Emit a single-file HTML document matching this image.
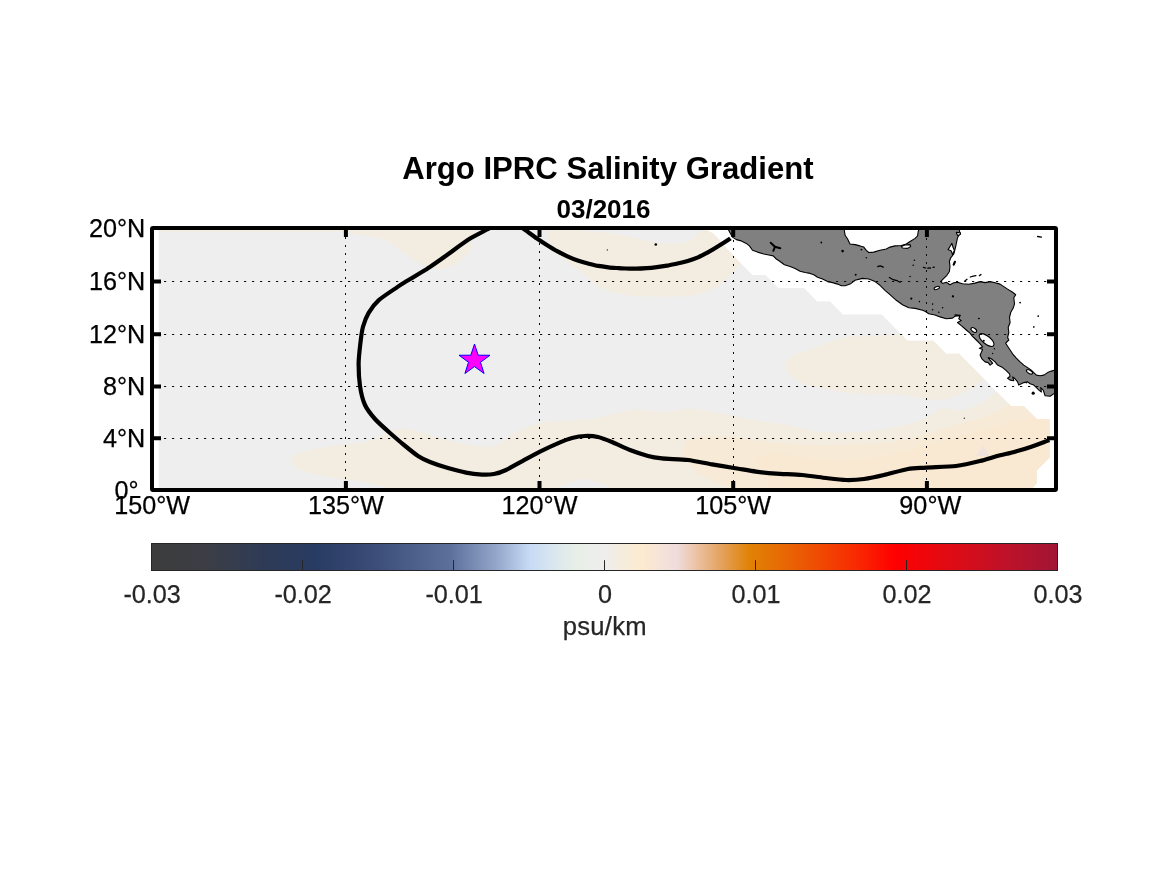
<!DOCTYPE html>
<html lang="en"><head><meta charset="utf-8"><title>Argo IPRC Salinity Gradient</title>
<style>html,body{margin:0;padding:0;background:#fff;width:1167px;height:875px;overflow:hidden}svg{display:block;font-family:"Liberation Sans",Arial,Helvetica,sans-serif}.tk{font-size:25.2px;fill:#000;stroke:#000;stroke-width:.25px}.ct{fill:none;stroke:#000;stroke-width:4.2;stroke-linejoin:round;stroke-linecap:butt}.gr{stroke:#0a0a0a;stroke-width:1.0;stroke-dasharray:2.2 5.8;fill:none}.cl{fill:#808080;stroke:#000;stroke-width:1.1;stroke-linejoin:round}.wt{fill:#fff;stroke:#000;stroke-width:1.1;stroke-linejoin:round}.isl{fill:#000;stroke:none}</style></head><body>
<svg width="1167" height="875" viewBox="0 0 1167 875">
<defs><clipPath id="ax"><rect x="154" y="230" width="900" height="258"/></clipPath>
<clipPath id="dat"><path d="M158.7 214.7 L700 224 L706.3 230.1 L713.1 233.5 L718.6 239 L726.8 248.6 L740.5 263 L752.6 274.9 L765.5 274.9 L778.4 288.1 L804.2 288.1 L817.1 301.4 L830 301.4 L842.9 314.5 L881.7 314.5 L907.5 340.8 L933.3 340.8 L946.2 353.8 L959.1 353.8 L1010.8 405.9 L1023.7 405.9 L1036.6 418.9 L1049.5 418.9 L1049.5 457.7 L1036.6 470.6 L1036.6 483.5 L1023.7 496.5 L158.7 496.5Z"/></clipPath>
<linearGradient id="cb" x1="0" y1="0" x2="1" y2="0">
<stop offset="0.0" stop-color="#3c3c3c"/>
<stop offset="0.06" stop-color="#3c3e45"/>
<stop offset="0.12" stop-color="#2f3b55"/>
<stop offset="0.18" stop-color="#283b62"/>
<stop offset="0.25" stop-color="#3d4e7a"/>
<stop offset="0.33" stop-color="#5d709c"/>
<stop offset="0.38" stop-color="#93a5c9"/>
<stop offset="0.418" stop-color="#c8dbf6"/>
<stop offset="0.45" stop-color="#dde9ec"/>
<stop offset="0.47" stop-color="#e8efe6"/>
<stop offset="0.5" stop-color="#eeeeee"/>
<stop offset="0.52" stop-color="#f5ecdc"/>
<stop offset="0.54" stop-color="#fdebd0"/>
<stop offset="0.56" stop-color="#f6e4d8"/>
<stop offset="0.58" stop-color="#efdcdc"/>
<stop offset="0.6" stop-color="#ecc4a8"/>
<stop offset="0.63" stop-color="#e3a15a"/>
<stop offset="0.66" stop-color="#e08205"/>
<stop offset="0.69" stop-color="#e66e04"/>
<stop offset="0.73" stop-color="#ee5003"/>
<stop offset="0.78" stop-color="#f92802"/>
<stop offset="0.82" stop-color="#ff0000"/>
<stop offset="0.88" stop-color="#e00b14"/>
<stop offset="0.94" stop-color="#c01128"/>
<stop offset="1.0" stop-color="#a01635"/>
</linearGradient></defs>
<rect width="1167" height="875" fill="#fff"/>
<text x="607.9" y="179.3" font-size="31.12" font-weight="bold" text-anchor="middle">Argo IPRC Salinity Gradient</text>
<text x="603.5" y="218.3" font-size="26" font-weight="bold" text-anchor="middle">03/2016</text>
<g clip-path="url(#ax)">
<g clip-path="url(#dat)">
<rect x="150" y="226" width="910" height="266" fill="#eeeeee"/>
<path d="M158 229H356V231.7H158Z" fill="#f3ece1"/>
<path d="M345 224 C323 225.4 346.2 230.8 348 232.5 C349.8 234.2 352.7 233.7 355.7 234.2 C358.7 234.7 362.6 235 366 235.5 C369.4 236 372.5 236.3 376.2 237.3 C379.9 238.3 384.4 239.5 388 241.4 C391.6 243.3 394.7 246.1 398 248.5 C401.3 250.9 403.7 253.2 408 256 C412.3 258.8 418.7 262.8 424 265 C429.3 267.2 435 269 440 269 C445 269 449.7 267.2 454 265 C458.3 262.8 463 259.2 466 256 C469 252.8 471.2 249 472 246 C472.8 243 470.3 240.5 471 238 C471.7 235.5 474.5 233.3 476 231 C477.5 228.7 501.8 225.2 480 224 C458.2 222.8 367 222.6 345 224Z" fill="#f3ece1"/>
<path d="M551 224 C547.3 225.6 547.6 233.3 547.5 236 C547.4 238.7 548.7 241.6 550 244 C551.3 246.4 554.7 251.6 557 254 C559.3 256.4 564.2 259.9 567 262 C569.8 264.1 575.2 267.4 578 269.5 C580.8 271.6 585.3 275.3 588 277.5 C590.7 279.7 594.8 284.1 598 286 C601.2 287.9 607.7 290.7 612 292 C616.3 293.3 624.9 294.9 630 295.5 C635.1 296.1 643.3 296.4 650 296.5 C656.7 296.6 673.3 296.8 680 296.5 C686.7 296.2 695.7 295 700 294 C704.3 293 709.5 290.1 712 289 C714.5 287.9 716.1 287.9 718.5 286 C720.9 284.1 727.1 277.9 730 275 C732.9 272.1 736 267.9 740 264 C744 260.1 757.3 251.3 760 246 C762.7 240.7 767.2 226.9 760 224 C752.8 221.1 713.7 223.1 706 224 C698.3 224.9 703.1 229.4 702 230.6 C700.9 231.8 699.6 231.9 698 233.2 C696.4 234.5 692.3 239 689.8 240.4 C687.3 241.8 682.5 243.1 679.5 243.5 C676.5 243.9 671.4 243.9 667 243.5 C662.6 243.1 652.1 241.4 646.6 240.4 C641.1 239.4 631.1 236.8 626 235.8 C620.9 234.8 613.6 233.8 608.5 233.2 C603.4 232.6 592.5 232.2 588 231 C583.5 229.8 579.9 224.9 575 224 C570.1 223.1 554.7 222.4 551 224Z" fill="#f3ece1"/>
<path d="M291 457.5 C290.5 455.5 289.8 457.2 293 456 C296.2 454.8 302.2 451.8 310 450 C317.8 448.2 330.7 446.3 340 445 C349.3 443.7 358.7 443.8 366 442 C373.3 440.2 378 436.3 384 434 C390 431.7 396 428.7 402 428.4 C408 428.1 413.7 430.4 420 432 C426.3 433.6 433.3 436.2 440 438 C446.7 439.8 453.3 441.6 460 443 C466.7 444.4 474.3 445.9 480 446.4 C485.7 446.9 489.7 447.2 494 446 C498.3 444.8 501.7 441.7 506 439 C510.3 436.3 514.3 432.7 520 430 C525.7 427.3 533.3 424.5 540 423 C546.7 421.5 551.7 421.7 560 421 C568.3 420.3 581.7 420 590 419 C598.3 418 602.3 416.6 610 415 C617.7 413.4 627.7 410.1 636 409.6 C644.3 409.1 651.3 412.1 660 412 C668.7 411.9 679.3 409 688 409 C696.7 409 704.3 410.8 712 412 C719.7 413.2 726 414.5 734 416 C742 417.5 750.2 419.3 760 421 C769.8 422.7 783 424.2 793 426 C803 427.8 808.8 431 820 432 C831.2 433 846.7 433 860 432 C873.3 431 889 428.3 900 426 C911 423.7 919.3 420.8 926 418 C932.7 415.2 934 410.3 940 409 C946 407.7 955.4 410.8 961.7 410 C968 409.2 973.5 406.5 978 404.5 C982.5 402.5 985.6 400.2 988.9 398 C992.1 395.8 994 394.5 997.5 391.5 C1001 388.5 997.9 381.9 1010 380 C1022.1 378.1 1060 360 1070 380 C1080 400 1146.3 480 1070 500 C993.7 520 689 502.2 612 500 C535 497.8 610.7 490 608 487 C605.3 484 600 483.3 596 482 C592 480.7 588 479 584 479 C580 479 576 480.7 572 482 C568 483.3 562.7 484 560 487 C557.3 490 584.3 497.8 556 500 C527.7 502.2 418.3 502 390 500 C361.7 498 387.7 490.3 386 488 C384.3 485.7 384.3 487.2 380 486 C375.7 484.8 366.7 482.2 360 481 C353.3 479.8 347 480 340 479 C333 478 324.7 476.5 318 475 C311.3 473.5 303.7 471.2 300 470 C296.3 468.8 297.5 470.1 296 468 C294.5 465.9 291.5 459.5 291 457.5Z" fill="#f3ece1"/>
<path d="M785 367 C784.3 363 787.8 358.8 792 356 C796.2 353.2 803.7 352.3 810 350 C816.3 347.7 823.3 344.2 830 342 C836.7 339.8 841.7 337.9 850 336.8 C858.3 335.7 872 335.9 880 335.5 C888 335.1 891.3 334.8 898 334.5 C904.7 334.2 903 334.1 920 334 C937 333.9 985 328 1000 334 C1015 340 1012.8 362.3 1010 370 C1007.2 377.7 989.6 377 983.4 380 C977.2 383 977.2 385.3 972.6 388 C968 390.7 961.4 394 956 396 C950.6 398 946 399.7 940 400 C934 400.3 926.7 398.8 920 398 C913.3 397.2 910 395.7 900 395 C890 394.3 873.3 395.2 860 394 C846.7 392.8 830.7 390.3 820 388 C809.3 385.7 801.8 383.5 796 380 C790.2 376.5 785.7 371 785 367Z" fill="#f3ece1"/>
<path d="M684 450 C684.3 446.3 685.3 442.3 690 440 C694.7 437.7 703.7 436.3 712 436 C720.3 435.7 732 437.2 740 438 C748 438.8 751.2 440 760 441 C768.8 442 783 443.3 793 444 C803 444.7 808.8 445 820 445 C831.2 445 848.3 444.5 860 444 C871.7 443.5 880 443.3 890 442 C900 440.7 911.7 438 920 436 C928.3 434 933.3 432 940 430 C946.7 428 953.3 426 960 424 C966.7 422 973.3 420.3 980 418 C986.7 415.7 993.3 413 1000 410 C1006.7 407 1008.3 401.7 1020 400 C1031.7 398.3 1061.7 383.3 1070 400 C1078.3 416.7 1125.8 483.3 1070 500 C1014.2 516.7 791.7 502 735 500 C678.3 498 732.5 490.7 730 488 C727.5 485.3 725 486.3 720 484 C715 481.7 705.3 477.7 700 474 C694.7 470.3 690.7 466 688 462 C685.3 458 683.7 453.7 684 450Z" fill="#f7ead7"/>
<path d="M756 458 C759.3 455 771 454 780 454 C789 454 800 457 810 458 C820 459 830 460 840 460 C850 460 860 459.3 870 458 C880 456.7 890 454.3 900 452 C910 449.7 920 446.7 930 444 C940 441.3 950 438.7 960 436 C970 433.3 980 430.7 990 428 C1000 425.3 1006.7 422.2 1020 420 C1033.3 417.8 1061.7 401.7 1070 415 C1078.3 428.3 1119 485.8 1070 500 C1021 514.2 826 502.3 776 500 C726 497.7 772.7 490.7 770 486 C767.3 481.3 762.3 476.7 760 472 C757.7 467.3 752.7 461 756 458Z" fill="#f9e9d3"/>
<path d="M983.4 446 L990 456 L976 456Z" fill="#f0e2dc"/>
</g>
<path class="cl" d="M727.5 227.8 L730 232.8 L732.5 237.1 L736.3 239.6 L741.3 240.9 L746.3 243.4 L749.4 245.9 L752.5 250.3 L757.5 252.1 L763.8 254 L770 255.3 L773.2 255.9 L776.3 259 L780.1 261.5 L784.4 264.7 L790.1 266.5 L795.1 268.4 L800.1 271.3 L805.1 272.5 L810.1 273.4 L813.8 274.7 L817.6 277.2 L822.6 279 L827.6 281.6 L832.6 282.6 L837.6 284.1 L841.4 285.7 L845.1 285.7 L850.1 284.1 L855 280.3 L862.5 278.4 L868.8 279 L875 281.6 L880 285.3 L885 290.3 L890 294.7 L896.3 300.3 L902.5 304.7 L908.8 307.8 L915.1 308.4 L922.6 310.3 L925 311.3 L928.8 313.8 L935 315 L940 316.9 L946.3 318.8 L952.5 318.1 L955 316.3 L960 315.6 L958.8 318.8 L961.3 320.6 L957.5 322.5 L961.3 325.6 L966.3 330 L970 333.2 L972.5 336.3 L976.3 340 L980.1 343.8 L982.6 346.9 L979.4 348.2 L982.6 349.4 L981.3 352.5 L980.1 355 L981.9 358.8 L985.1 361.9 L988.2 362.6 L990.1 365.1 L992.6 363.2 L990.1 360.1 L988.2 357.6 L991.3 358.8 L995.1 361.9 L997.6 365.1 L1002.6 367.6 L1006.3 370.7 L1009.5 373.8 L1010.1 376.3 L1007.6 378.2 L1010.1 380.1 L1013.8 380.7 L1012.6 376.9 L1015.1 378.8 L1017.6 381.9 L1018.8 385.1 L1023.8 382.6 L1027.6 381.9 L1030.1 383.8 L1033.8 385.1 L1036.4 387.6 L1038.9 390.1 L1041.4 392 L1040.7 387.6 L1043.2 390.1 L1045.1 395.7 L1050.1 396.3 L1054.5 393.2 L1060 393 L1060 371 L1054.5 370.3 L1051.4 371.1 L1047.6 372.6 L1043.9 375.1 L1040.1 375.7 L1036.4 375.1 L1033.8 372.6 L1031.3 370.1 L1027.6 367.6 L1023.8 365.1 L1020.1 361.9 L1016.3 358.2 L1012.6 353.8 L1010.1 350 L1007.6 346.3 L1005.7 343.2 L1008.8 340 L1007.6 337.5 L1008.8 332.5 L1008.2 327.5 L1010.1 322.5 L1009.5 317.5 L1010.7 312.5 L1013.2 308.1 L1014.5 303.8 L1013.8 297.8 L1015.7 294.7 L1012.6 292.2 L1007.6 289.1 L1003.8 286.6 L1000.1 284.1 L995.1 282.8 L990.1 281.6 L985.1 282.6 L980.1 281.6 L975 283.1 L968.8 284.3 L962.5 283.8 L957.5 282.2 L953.8 282.8 L950 284.7 L946.3 282.2 L942.5 283.4 L940.6 281.6 L943.8 278.4 L946.9 275.3 L949.4 271.5 L950 266.5 L949.4 261.5 L950.7 257.8 L953.8 254 L955.7 246.5 L957.5 237.8 L960 233.4 L958.8 227.8 L919.4 227.8 L918.2 231.5 L917.6 235.9 L915.1 238.4 L910.1 241.5 L906.3 244 L901.3 245.5 L895 245.9 L890 247.1 L886.3 249 L880 250.3 L873.8 252.1 L868.8 252.5 L866.3 250.3 L863.8 247.1 L860 245.9 L855 244.6 L850 244 L847.6 239 L845.1 235.3 L843.9 227.8Z"/>
<path class="wt" d="M951.9 243.4 L953.2 247.8 L954.4 250.3 L952.5 254.7 L951.3 250.9 L948.1 249.6 L950 246.5Z"/>
<path class="wt" d="M901.3 246.5 L905 245 L910.1 244.6 L910.7 246.5 L907.6 248.4 L902.5 248Z"/>
<path class="wt" d="M956.3 232.4 L960.5 232.8 L960.3 234.6 L957.6 235.5 L956.8 234Z"/>
<ellipse class="wt" cx="986.6" cy="340.0" rx="9.0" ry="3.9" transform="rotate(39 986.6 340.0)"/>
<ellipse class="wt" cx="973.8" cy="330.0" rx="3.2" ry="1.8" transform="rotate(35 973.8 330.0)"/>
<ellipse class="wt" cx="1029.5" cy="371.8" rx="3.4" ry="1.6" transform="rotate(30 1029.5 371.8)"/>
<ellipse class="wt" cx="936.8" cy="288.0" rx="2.8" ry="1.4" transform="rotate(-20 936.8 288.0)"/>
<circle class="isl" cx="821.3" cy="242.5" r="0.9"/>
<circle class="isl" cx="855.7" cy="274.7" r="0.9"/>
<circle class="isl" cx="861.4" cy="249.6" r="0.9"/>
<circle class="isl" cx="842.6" cy="251.1" r="1.3"/>
<circle class="isl" cx="866.3" cy="257.8" r="0.8"/>
<circle class="isl" cx="855.6" cy="274.7" r="0.8"/>
<circle class="isl" cx="914.4" cy="260.3" r="0.8"/>
<circle class="isl" cx="913.2" cy="265.3" r="0.8"/>
<circle class="isl" cx="910.1" cy="276.5" r="0.8"/>
<circle class="isl" cx="911.3" cy="298.8" r="0.8"/>
<circle class="isl" cx="919.4" cy="301.6" r="0.8"/>
<circle class="isl" cx="932.6" cy="304.1" r="0.8"/>
<circle class="isl" cx="942.6" cy="307.8" r="0.8"/>
<circle class="isl" cx="938.8" cy="312.2" r="0.8"/>
<circle class="isl" cx="932.6" cy="309.7" r="0.8"/>
<circle class="isl" cx="952.6" cy="296.3" r="0.8"/>
<circle class="isl" cx="978.9" cy="318.5" r="0.8"/>
<circle class="isl" cx="1020.1" cy="302.8" r="0.7"/>
<circle class="isl" cx="1038.2" cy="316.2" r="0.7"/>
<circle class="isl" cx="1033.8" cy="327" r="0.7"/>
<circle class="isl" cx="978.8" cy="318.5" r="0.7"/>
<circle class="isl" cx="1020.1" cy="302.5" r="0.7"/>
<circle class="isl" cx="1038.2" cy="316" r="0.7"/>
<circle class="isl" cx="1033.8" cy="326.9" r="0.7"/>
<circle class="isl" cx="994.4" cy="348.8" r="0.7"/>
<circle class="isl" cx="992.6" cy="353.5" r="0.7"/>
<circle class="isl" cx="1026.3" cy="382.8" r="0.7"/>
<circle class="isl" cx="983.8" cy="340.7" r="1.0"/>
<circle class="isl" cx="1033.2" cy="393.2" r="1.6"/>
<circle class="isl" cx="655.8" cy="244.5" r="1.3"/>
<circle class="isl" cx="607.3" cy="249.9" r="0.6"/>
<circle class="isl" cx="964.3" cy="418.2" r="0.6"/>
<circle class="isl" cx="911.3" cy="298.5" r="1.1"/>
<circle class="isl" cx="953" cy="296.4" r="1.1"/>
<path d="M877.8 266.5 L880.7 265.9 L883.2 267.2" fill="none" stroke="#000" stroke-width="1.3" stroke-linecap="round"/>
<path d="M889.4 277.5 L893.2 279.7 L896.9 280.5 L900 282.2" fill="none" stroke="#000" stroke-width="1.3" stroke-linecap="round"/>
<path d="M964.6 281.3 L967 279.3" fill="none" stroke="#000" stroke-width="1.3" stroke-linecap="round"/>
<path d="M970.3 277 L973.2 276.1 L975.9 275.6" fill="none" stroke="#000" stroke-width="1.3" stroke-linecap="round"/>
<path d="M979.4 275.6 L981 274.5" fill="none" stroke="#000" stroke-width="1.3" stroke-linecap="round"/>
<path d="M1037.6 236.5 L1041.4 237.1" fill="none" stroke="#000" stroke-width="1.3" stroke-linecap="round"/>
<path d="M923.4 267.3 L925.7 268" fill="none" stroke="#000" stroke-width="1.3" stroke-linecap="round"/>
<path d="M927.8 268.2 L930.4 268" fill="none" stroke="#000" stroke-width="1.3" stroke-linecap="round"/>
<path d="M933.1 267.3 L934.3 267.1" fill="none" stroke="#000" stroke-width="1.3" stroke-linecap="round"/>
<path d="M955 315 L960.2 315.3" fill="none" stroke="#000" stroke-width="1.3" stroke-linecap="round"/>
<path d="M953.7 264.7 L954.9 261.8" fill="none" stroke="#000" stroke-width="2.2" stroke-linecap="round"/>
<path d="M770.7 242.8 L775 246.8 L780.3 248.3" fill="none" stroke="#000" stroke-width="2" stroke-linecap="round"/>
<path d="M775 246.8 L773.3 250.8" fill="none" stroke="#000" stroke-width="2" stroke-linecap="round"/>
<path class="gr" d="M164 438.5H1047"/>
<path class="gr" d="M164 386.5H1047"/>
<path class="gr" d="M164 334.5H1047"/>
<path class="gr" d="M164 281.5H1047"/>
<path class="gr" style="stroke-dasharray:2 6" d="M345.5 237V481"/>
<path class="gr" style="stroke-dasharray:2 6" d="M539.5 243V481"/>
<path class="gr" style="stroke-dasharray:2 6" d="M733.5 240V481"/>
<path class="gr" style="stroke-dasharray:2 6" d="M926.5 238V481"/>
<path class="ct" d="M495.4 225 C494.4 225.5 490.1 227.9 487.1 229.5 C484.1 231.1 473.7 236.3 469.3 239.1 C464.9 241.9 454 249.9 449.4 253.2 C444.8 256.5 434.7 263.8 429.5 267.2 C424.3 270.6 408.6 280 404.8 282.3 C401 284.6 400.3 285 397.3 287.1 C394.3 289.2 382.2 297.1 378.8 300.1 C375.4 303.1 370.3 310 368.5 313.1 C366.7 316.2 364 323.2 363 326.8 C362 330.4 360.8 339.7 360.3 344 C359.8 348.3 358.6 359.1 358.6 364 C358.6 368.9 359.3 381.2 360 386 C360.7 390.8 363.2 401.1 365 405 C366.8 408.9 372.1 415.7 375 419 C377.9 422.3 386.6 430 390 433 C393.4 436 400.7 442.3 404 445 C407.3 447.7 415 454 418 456 C421 458 426.5 460.6 430 462 C433.5 463.4 443.8 466.8 448 468 C452.2 469.2 462 471.8 466 472.6 C470 473.4 478.7 474.4 482 474.6 C485.3 474.8 491.2 474.5 494 474 C496.8 473.5 503 471.4 506 470 C509 468.6 516 464.5 520 462.4 C524 460.3 535.3 453.9 540 451.6 C544.7 449.3 556.3 444 560 442.4 C563.7 440.8 569.1 438.7 572 438 C574.9 437.3 582 436.1 585 436 C588 435.9 594.9 436.3 598 437 C601.1 437.7 608.3 440.5 612 442 C615.7 443.5 625.8 448.4 630 450 C634.2 451.6 644.3 455 648 456 C651.7 457 657.3 457.9 662 458.4 C666.7 458.9 682.2 459.3 688 460 C693.8 460.7 706.6 463.5 712 464.4 C717.4 465.3 728.9 467.2 734 468 C739.1 468.8 751.1 470.9 756 471.6 C760.9 472.3 770.6 473.2 776 473.6 C781.4 474 796.2 474.5 802 475 C807.8 475.5 820.9 477.4 826 478 C831.1 478.6 841.6 479.9 846 480 C850.4 480.1 859.6 479.6 864 479 C868.4 478.4 878.9 476.2 884 475 C889.1 473.8 903.1 469.9 908 469 C912.9 468.1 920.4 468 926 467.6 C931.6 467.2 949.7 466.8 956 466 C962.3 465.2 975.2 462.2 980 461 C984.8 459.8 993 457.2 997 456.1 C1001 455 1010.3 453 1014.3 451.9 C1018.3 450.8 1027.9 447.9 1031.4 446.7 C1034.9 445.5 1042.2 442.8 1044.3 442 C1046.4 441.2 1048.8 440.1 1049.4 439.9"/>
<path class="ct" d="M519.6 226 C520.3 226.5 523.3 228.7 525.3 230.1 C527.3 231.5 534.1 236.6 536.6 238.3 C539.1 240 544.4 243.5 546.8 245 C549.2 246.5 554.7 249.9 557.1 251.2 C559.5 252.5 565 255.2 567.4 256.3 C569.8 257.4 575.3 259.6 577.7 260.4 C580.1 261.2 585.6 262.9 588 263.5 C590.4 264.1 595.9 265.5 598.3 265.9 C600.7 266.3 606.1 267 608.5 267.3 C610.9 267.6 616.4 268 618.8 268.2 C621.2 268.4 627.1 268.5 629.1 268.6 C631.1 268.7 634.3 268.7 636.3 268.7 C638.3 268.7 644.2 268.4 646.6 268.2 C649 268 654.4 267.4 656.8 267.1 C659.2 266.8 664.7 266 667.1 265.6 C669.5 265.2 675 264 677.4 263.5 C679.8 263 685.3 261.7 687.7 261 C690.1 260.3 695.6 258.4 698 257.4 C700.4 256.4 705.9 253.5 708.3 252.2 C710.7 250.9 716.5 247.4 718.5 246.1 C720.5 244.8 724.3 242.3 725.7 241.4 C727.1 240.5 729.9 238.7 730.4 238.3"/>
<path d="M474.50 344.00 L478.20 355.20 L490.00 355.26 L480.49 362.25 L484.08 373.49 L474.50 366.60 L464.92 373.49 L468.51 362.25 L459.00 355.26 L470.80 355.20Z" fill="#ff00ff" stroke="#0000ff" stroke-width="1" stroke-linejoin="miter"/>
</g>
<path d="M154 438.3H161M1054 438.3H1047" stroke="#000" stroke-width="4" fill="none"/>
<path d="M154 386.4H161M1054 386.4H1047" stroke="#000" stroke-width="4" fill="none"/>
<path d="M154 334.2H161M1054 334.2H1047" stroke="#000" stroke-width="4" fill="none"/>
<path d="M154 281.5H161M1054 281.5H1047" stroke="#000" stroke-width="4" fill="none"/>
<path d="M345.9 230V237M345.9 488V481" stroke="#000" stroke-width="4" fill="none"/>
<path d="M539.5 230V237M539.5 488V481" stroke="#000" stroke-width="4" fill="none"/>
<path d="M733.2 230V237M733.2 488V481" stroke="#000" stroke-width="4" fill="none"/>
<path d="M926.9 230V237M926.9 488V481" stroke="#000" stroke-width="4" fill="none"/>
<rect x="152" y="228" width="904" height="262" fill="none" stroke="#000" stroke-width="4" rx="1" ry="1"/>
<text class="tk" x="145.3" y="236.8" text-anchor="end">20°N</text>
<text class="tk" x="145.3" y="290.3" text-anchor="end">16°N</text>
<text class="tk" x="145.3" y="343" text-anchor="end">12°N</text>
<text class="tk" x="145.3" y="395.2" text-anchor="end">8°N</text>
<text class="tk" x="145.3" y="447.1" text-anchor="end">4°N</text>
<text class="tk" x="138.5" y="498.8" text-anchor="end">0°</text>
<text class="tk" x="152.2" y="514.3" text-anchor="middle">150°W</text>
<text class="tk" x="345.9" y="514.3" text-anchor="middle">135°W</text>
<text class="tk" x="539.5" y="514.3" text-anchor="middle">120°W</text>
<text class="tk" x="733.2" y="514.3" text-anchor="middle">105°W</text>
<text class="tk" x="930.3" y="514.3" text-anchor="middle">90°W</text>
<rect x="151.5" y="543.5" width="906.0" height="27.0" fill="url(#cb)" stroke="#262626" stroke-width="1"/>
<path d="M302.5 570.5V560.2" stroke="#262626" stroke-width="1"/>
<path d="M453.5 570.5V560.2" stroke="#262626" stroke-width="1"/>
<path d="M604.5 570.5V560.2" stroke="#262626" stroke-width="1"/>
<path d="M755.5 570.5V560.2" stroke="#262626" stroke-width="1"/>
<path d="M906.5 570.5V560.2" stroke="#262626" stroke-width="1"/>
<text class="tk" x="152.1" y="603.4" text-anchor="middle" style="fill:#262626;stroke:#262626">-0.03</text>
<text class="tk" x="303.1" y="603.4" text-anchor="middle" style="fill:#262626;stroke:#262626">-0.02</text>
<text class="tk" x="454.1" y="603.4" text-anchor="middle" style="fill:#262626;stroke:#262626">-0.01</text>
<text class="tk" x="605.1" y="603.4" text-anchor="middle" style="fill:#262626;stroke:#262626">0</text>
<text class="tk" x="756.1" y="603.4" text-anchor="middle" style="fill:#262626;stroke:#262626">0.01</text>
<text class="tk" x="907.1" y="603.4" text-anchor="middle" style="fill:#262626;stroke:#262626">0.02</text>
<text class="tk" x="1058.1" y="603.4" text-anchor="middle" style="fill:#262626;stroke:#262626">0.03</text>
<text class="tk" x="604.8" y="635" text-anchor="middle" style="fill:#262626;stroke:#262626;font-size:25.6px;letter-spacing:.25px">psu/km</text>
</svg></body></html>
